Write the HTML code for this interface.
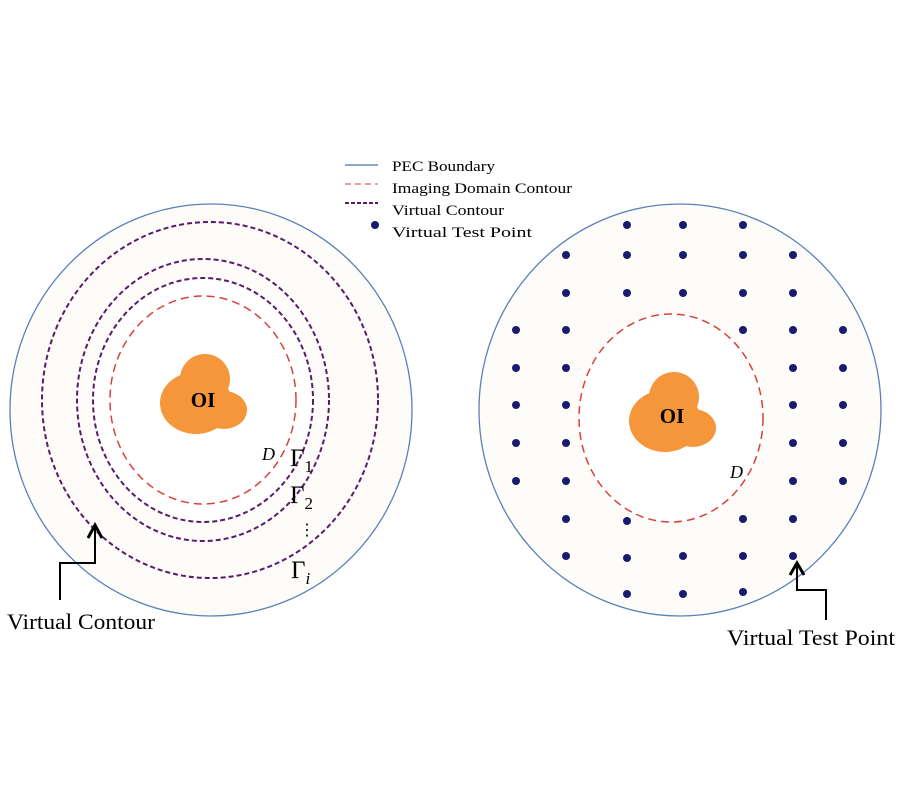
<!DOCTYPE html>
<html><head><style>body{margin:0;background:#fff}svg{display:block}</style></head><body>
<svg width="900" height="800" viewBox="0 0 900 800" xmlns="http://www.w3.org/2000/svg" font-family="Liberation Serif, serif">
<rect width="900" height="800" fill="#fff"/>
<!-- Left -->
<ellipse cx="211" cy="410" rx="201" ry="206" fill="#fdfcf8" stroke="#5b80b8" stroke-width="1.3"/>
<ellipse cx="210" cy="400" rx="168" ry="178" fill="none" stroke="#5a1a6e" stroke-width="2" stroke-dasharray="5,3"/>
<ellipse cx="203" cy="400" rx="126" ry="141" fill="none" stroke="#5a1a6e" stroke-width="2" stroke-dasharray="5,3"/>
<ellipse cx="203" cy="400" rx="110" ry="122" fill="#fff" stroke="#5a1a6e" stroke-width="2" stroke-dasharray="5,3"/>
<ellipse cx="203" cy="400" rx="93" ry="104" fill="none" stroke="#d9403a" stroke-width="1.5" stroke-dasharray="8,5"/>
<g fill="#f5963a">
<ellipse cx="196" cy="403" rx="36" ry="31"/>
<circle cx="205" cy="379" r="25"/>
<ellipse cx="224" cy="410" rx="23" ry="19"/>
</g>
<text x="203" y="407" font-size="21" font-weight="bold" text-anchor="middle">OI</text>
<text x="262" y="460" font-size="18" font-style="italic">D</text>
<text x="290" y="466" font-size="25">Γ<tspan font-size="17" dy="6">1</tspan></text>
<text x="290" y="503" font-size="25">Γ<tspan font-size="17" dy="6">2</tspan></text>
<text x="299" y="535" font-size="16">⋮</text>
<text x="291" y="578" font-size="25">Γ<tspan font-size="17" dy="6" font-style="italic">i</tspan></text>
<path d="M60,600 V563 H95 V528" fill="none" stroke="#000" stroke-width="2"/>
<path d="M88,538 L95,525 L102,538" fill="none" stroke="#000" stroke-width="3"/>
<text x="7" y="629" font-size="22" textLength="148" lengthAdjust="spacingAndGlyphs">Virtual Contour</text>
<!-- Right -->
<ellipse cx="680" cy="410" rx="201" ry="206" fill="#fdfcf8" stroke="#5b80b8" stroke-width="1.3"/>
<ellipse cx="671" cy="418" rx="92" ry="104" fill="#fff" stroke="#d9403a" stroke-width="1.5" stroke-dasharray="8,5"/>
<g fill="#f5963a">
<ellipse cx="665" cy="421" rx="36" ry="31"/>
<circle cx="674" cy="397" r="25"/>
<ellipse cx="693" cy="428" rx="23" ry="19"/>
</g>
<text x="672" y="423" font-size="21" font-weight="bold" text-anchor="middle">OI</text>
<text x="730" y="478" font-size="18" font-style="italic">D</text>
<g fill="#1a1a6e">
<circle cx="627" cy="225" r="4"/><circle cx="683" cy="225" r="4"/><circle cx="743" cy="225" r="4"/>
<circle cx="566" cy="255" r="4"/><circle cx="627" cy="255" r="4"/><circle cx="683" cy="255" r="4"/><circle cx="743" cy="255" r="4"/><circle cx="793" cy="255" r="4"/>
<circle cx="566" cy="293" r="4"/><circle cx="627" cy="293" r="4"/><circle cx="683" cy="293" r="4"/><circle cx="743" cy="293" r="4"/><circle cx="793" cy="293" r="4"/>
<circle cx="516" cy="330" r="4"/><circle cx="566" cy="330" r="4"/><circle cx="743" cy="330" r="4"/><circle cx="793" cy="330" r="4"/><circle cx="843" cy="330" r="4"/>
<circle cx="516" cy="368" r="4"/><circle cx="566" cy="368" r="4"/><circle cx="793" cy="368" r="4"/><circle cx="843" cy="368" r="4"/>
<circle cx="516" cy="405" r="4"/><circle cx="566" cy="405" r="4"/><circle cx="793" cy="405" r="4"/><circle cx="843" cy="405" r="4"/>
<circle cx="516" cy="443" r="4"/><circle cx="566" cy="443" r="4"/><circle cx="793" cy="443" r="4"/><circle cx="843" cy="443" r="4"/>
<circle cx="516" cy="481" r="4"/><circle cx="566" cy="481" r="4"/><circle cx="793" cy="481" r="4"/><circle cx="843" cy="481" r="4"/>
<circle cx="566" cy="519" r="4"/><circle cx="627" cy="521" r="4"/><circle cx="743" cy="519" r="4"/><circle cx="793" cy="519" r="4"/>
<circle cx="566" cy="556" r="4"/><circle cx="627" cy="558" r="4"/><circle cx="683" cy="556" r="4"/><circle cx="743" cy="556" r="4"/><circle cx="793" cy="556" r="4"/>
<circle cx="627" cy="594" r="4"/><circle cx="683" cy="594" r="4"/><circle cx="743" cy="592" r="4"/>
</g>
<path d="M826,620 V590 H797 V566" fill="none" stroke="#000" stroke-width="2"/>
<path d="M790,575 L797,563 L804,575" fill="none" stroke="#000" stroke-width="3"/>
<text x="727" y="645" font-size="22" textLength="168" lengthAdjust="spacingAndGlyphs">Virtual Test Point</text>
<!-- Legend -->
<line x1="345" y1="165" x2="378" y2="165" stroke="#4a6fb0" stroke-width="1.2"/>
<line x1="345" y1="184" x2="378" y2="184" stroke="#e06060" stroke-width="1.2" stroke-dasharray="6,4"/>
<line x1="345" y1="203" x2="378" y2="203" stroke="#5a1a6e" stroke-width="2" stroke-dasharray="4,2"/>
<circle cx="375" cy="225" r="4" fill="#1a1a6e"/>
<g font-size="15">
<text x="392" y="171" textLength="103" lengthAdjust="spacingAndGlyphs">PEC Boundary</text>
<text x="392" y="193" textLength="180" lengthAdjust="spacingAndGlyphs">Imaging Domain Contour</text>
<text x="392" y="215" textLength="112" lengthAdjust="spacingAndGlyphs">Virtual Contour</text>
<text x="392" y="237" textLength="140" lengthAdjust="spacingAndGlyphs">Virtual Test Point</text>
</g>
</svg>
</body></html>
